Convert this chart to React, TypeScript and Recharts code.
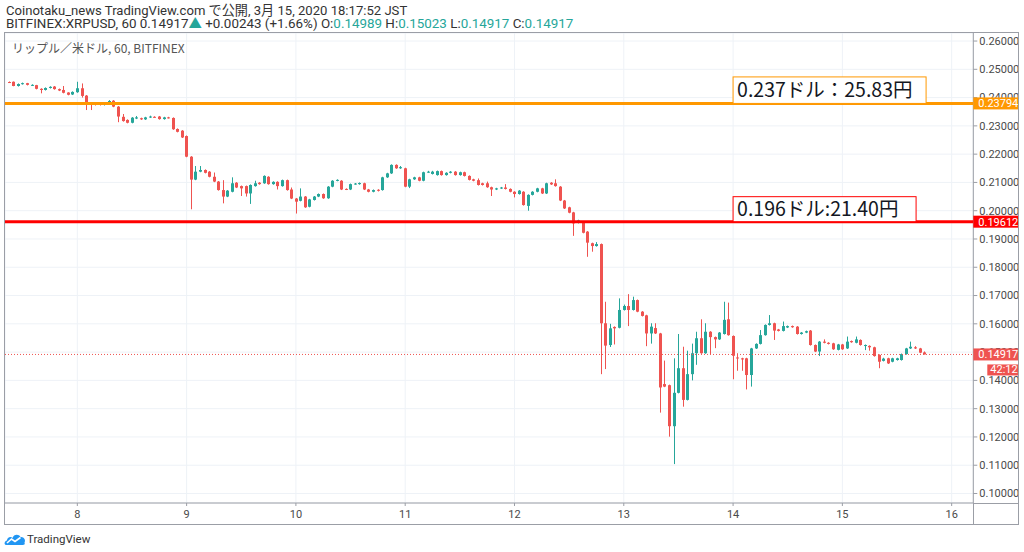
import React from 'react';
import { ComposedChart, Bar, XAxis, YAxis, CartesianGrid, ReferenceLine } from 'recharts';

// ---- data (hourly candles, first candle = 7th 09:00 JST, i.e. hour -15 from 8th 00:00) ----
const START_HOUR = -15;

const OPEN = [
  0.2455, 0.2456, 0.2441, 0.2448, 0.2451, 0.2443, 0.2444, 0.2431, 0.2427, 0.2434, 0.2439, 0.2430, 0.2427, 0.2418, 0.2411,
  0.2419, 0.2433, 0.2407, 0.2380, 0.2378, 0.2382, 0.2374, 0.2382, 0.2389, 0.2368, 0.2332, 0.2321, 0.2311, 0.2326, 0.2327, 0.2323, 0.2330, 0.2332, 0.2333, 0.2324, 0.2330, 0.2328, 0.2289, 0.2283,
  0.2264, 0.2191, 0.2110, 0.2138, 0.2144, 0.2138, 0.2120, 0.2103, 0.2073, 0.2050, 0.2067, 0.2099, 0.2087, 0.2087, 0.2061, 0.2087, 0.2099, 0.2097, 0.2120, 0.2094, 0.2102, 0.2087, 0.2108, 0.2075,
  0.2043, 0.2035, 0.2050, 0.2014, 0.2038, 0.2050, 0.2059, 0.2044, 0.2085, 0.2106, 0.2106, 0.2077, 0.2075, 0.2094, 0.2094, 0.2097, 0.2075, 0.2067, 0.2074, 0.2073, 0.2118, 0.2132, 0.2162, 0.2150,
  0.2150, 0.2085, 0.2111, 0.2118, 0.2106, 0.2136, 0.2130, 0.2126, 0.2140, 0.2126, 0.2134, 0.2138, 0.2126, 0.2136, 0.2123, 0.2111, 0.2108, 0.2097, 0.2097, 0.2083, 0.2075, 0.2079, 0.2082, 0.2077,
  0.2067, 0.2059, 0.2067, 0.2017, 0.2056, 0.2067, 0.2079, 0.2061, 0.2099, 0.2097, 0.2085, 0.2036, 0.2012, 0.1994, 0.1957, 0.1961, 0.1926, 0.1885, 0.1875, 0.1882, 0.1602, 0.1525, 0.1589, 0.1586,
  0.1649, 0.1663, 0.1649, 0.1684, 0.1643, 0.1630, 0.1566, 0.1585, 0.1566, 0.1387, 0.1383, 0.1238, 0.1356, 0.1443, 0.1331, 0.1422, 0.1496, 0.1549, 0.1496, 0.1572, 0.1553, 0.1545, 0.1564, 0.1616,
  0.1557, 0.1481, 0.1478, 0.1478, 0.1419, 0.1513, 0.1529, 0.1560, 0.1596, 0.1602, 0.1580, 0.1575, 0.1587, 0.1592, 0.1590, 0.1564, 0.1569, 0.1576, 0.1525, 0.1502, 0.1537, 0.1533, 0.1531, 0.1508,
  0.1527, 0.1513, 0.1539, 0.1533, 0.1543, 0.1522, 0.1522, 0.1517, 0.1490, 0.1469, 0.1478, 0.1466, 0.1472, 0.1472, 0.1493, 0.1513, 0.1517, 0.1513, 0.14989,
];

const HIGH = [
  0.2457, 0.2457, 0.2450, 0.2453, 0.2452, 0.2447, 0.2445, 0.2433, 0.2436, 0.2440, 0.2441, 0.2432, 0.2441, 0.2419, 0.2422,
  0.2456, 0.2450, 0.2409, 0.2382, 0.2381, 0.2384, 0.2384, 0.2391, 0.2391, 0.2370, 0.2342, 0.2323, 0.2331, 0.2335, 0.2329, 0.2332, 0.2336, 0.2334, 0.2335, 0.2332, 0.2332, 0.2330, 0.2291, 0.2285,
  0.2266, 0.2193, 0.2158, 0.2158, 0.2146, 0.2140, 0.2135, 0.2105, 0.2108, 0.2073, 0.2118, 0.2101, 0.2089, 0.2089, 0.2093, 0.2106, 0.2101, 0.2125, 0.2122, 0.2104, 0.2104, 0.2110, 0.2110, 0.2082,
  0.2045, 0.2079, 0.2052, 0.2042, 0.2052, 0.2061, 0.2061, 0.2087, 0.2108, 0.2111, 0.2108, 0.2079, 0.2096, 0.2098, 0.2100, 0.2099, 0.2077, 0.2075, 0.2076, 0.2120, 0.2134, 0.2164, 0.2164, 0.2158,
  0.2152, 0.2113, 0.2120, 0.2120, 0.2138, 0.2141, 0.2141, 0.2142, 0.2142, 0.2136, 0.2140, 0.2140, 0.2138, 0.2138, 0.2125, 0.2113, 0.2114, 0.2099, 0.2103, 0.2085, 0.2081, 0.2084, 0.2094, 0.2079,
  0.2069, 0.2073, 0.2069, 0.2058, 0.2069, 0.2081, 0.2081, 0.2099, 0.2101, 0.2111, 0.2087, 0.2038, 0.2014, 0.1996, 0.1968, 0.1963, 0.1928, 0.1887, 0.1889, 0.1884, 0.1678, 0.1600, 0.1591, 0.1690,
  0.1668, 0.1705, 0.1696, 0.1686, 0.1645, 0.1632, 0.1602, 0.1602, 0.1568, 0.1470, 0.1385, 0.1478, 0.1564, 0.1519, 0.1505, 0.1530, 0.1572, 0.1616, 0.1602, 0.1574, 0.1555, 0.1571, 0.1678, 0.1675,
  0.1559, 0.1496, 0.1480, 0.1480, 0.1515, 0.1531, 0.1578, 0.1598, 0.1631, 0.1604, 0.1582, 0.1608, 0.1594, 0.1594, 0.1592, 0.1571, 0.1576, 0.1578, 0.1527, 0.1539, 0.1545, 0.1535, 0.1533, 0.1529,
  0.1529, 0.1555, 0.1541, 0.1555, 0.1545, 0.1527, 0.1524, 0.1519, 0.1492, 0.1480, 0.1480, 0.1480, 0.1480, 0.1495, 0.1515, 0.1537, 0.1521, 0.1515, 0.15023,
];

const LOW = [
  0.2452, 0.2440, 0.2439, 0.2446, 0.2443, 0.2441, 0.2429, 0.2415, 0.2425, 0.2432, 0.2428, 0.2423, 0.2415, 0.2408, 0.2409,
  0.2417, 0.2400, 0.2356, 0.2356, 0.2372, 0.2372, 0.2372, 0.2380, 0.2366, 0.2313, 0.2315, 0.2309, 0.2309, 0.2324, 0.2321, 0.2321, 0.2328, 0.2329, 0.2322, 0.2322, 0.2326, 0.2286, 0.2277, 0.2257,
  0.2189, 0.2005, 0.2108, 0.2136, 0.2132, 0.2118, 0.2101, 0.2071, 0.2026, 0.2048, 0.2065, 0.2080, 0.2052, 0.2050, 0.2024, 0.2085, 0.2092, 0.2095, 0.2092, 0.2092, 0.2075, 0.2085, 0.2071, 0.2041,
  0.1990, 0.2033, 0.2010, 0.2012, 0.2036, 0.2048, 0.2042, 0.2042, 0.2083, 0.2104, 0.2073, 0.2073, 0.2073, 0.2092, 0.2092, 0.2073, 0.2065, 0.2065, 0.2068, 0.2071, 0.2116, 0.2130, 0.2148, 0.2148,
  0.2083, 0.2080, 0.2109, 0.2104, 0.2104, 0.2134, 0.2128, 0.2124, 0.2124, 0.2124, 0.2132, 0.2124, 0.2124, 0.2121, 0.2107, 0.2104, 0.2089, 0.2089, 0.2081, 0.2052, 0.2073, 0.2077, 0.2075, 0.2065,
  0.2047, 0.2057, 0.2018, 0.2000, 0.2054, 0.2065, 0.2059, 0.2059, 0.2091, 0.2085, 0.2034, 0.2006, 0.1991, 0.1911, 0.1955, 0.1920, 0.1837, 0.1855, 0.1873, 0.1422, 0.1440, 0.1518, 0.1527, 0.1584,
  0.1647, 0.1592, 0.1647, 0.1641, 0.1626, 0.1521, 0.1530, 0.1564, 0.1286, 0.1376, 0.1201, 0.1104, 0.1354, 0.1307, 0.1329, 0.1400, 0.1455, 0.1494, 0.1494, 0.1493, 0.1514, 0.1543, 0.1562, 0.1558,
  0.1404, 0.1434, 0.1434, 0.1368, 0.1378, 0.1511, 0.1527, 0.1558, 0.1594, 0.1543, 0.1573, 0.1573, 0.1585, 0.1586, 0.1562, 0.1562, 0.1567, 0.1523, 0.1500, 0.1486, 0.1531, 0.1527, 0.1508, 0.1506,
  0.1508, 0.1511, 0.1533, 0.1531, 0.1523, 0.1507, 0.1505, 0.1484, 0.1443, 0.1467, 0.1458, 0.1464, 0.1470, 0.1470, 0.1491, 0.1511, 0.1511, 0.1496, 0.14917,
];

const CLOSE = [
  0.2453, 0.2441, 0.2448, 0.2451, 0.2445, 0.2445, 0.2431, 0.2427, 0.2434, 0.2438, 0.2430, 0.2425, 0.2417, 0.2410, 0.2420,
  0.2433, 0.2406, 0.2380, 0.2374, 0.2376, 0.2374, 0.2382, 0.2388, 0.2368, 0.2333, 0.2317, 0.2311, 0.2329, 0.2330, 0.2323, 0.2330, 0.2333, 0.2331, 0.2324, 0.2330, 0.2328, 0.2288, 0.2279, 0.2259,
  0.2191, 0.2110, 0.2138, 0.2144, 0.2134, 0.2120, 0.2103, 0.2073, 0.2050, 0.2071, 0.2097, 0.2082, 0.2079, 0.2061, 0.2091, 0.2097, 0.2094, 0.2123, 0.2094, 0.2102, 0.2087, 0.2108, 0.2073, 0.2043,
  0.2032, 0.2050, 0.2012, 0.2040, 0.2050, 0.2059, 0.2044, 0.2085, 0.2106, 0.2109, 0.2075, 0.2075, 0.2094, 0.2096, 0.2098, 0.2075, 0.2067, 0.2073, 0.2071, 0.2118, 0.2132, 0.2162, 0.2150, 0.2154,
  0.2085, 0.2111, 0.2118, 0.2106, 0.2136, 0.2138, 0.2138, 0.2140, 0.2126, 0.2134, 0.2138, 0.2126, 0.2136, 0.2123, 0.2109, 0.2106, 0.2091, 0.2091, 0.2083, 0.2075, 0.2079, 0.2082, 0.2077, 0.2067,
  0.2059, 0.2071, 0.2020, 0.2056, 0.2067, 0.2079, 0.2061, 0.2097, 0.2093, 0.2087, 0.2036, 0.2008, 0.1993, 0.1955, 0.1966, 0.1922, 0.1887, 0.1875, 0.1882, 0.1602, 0.1523, 0.1584, 0.1584, 0.1649,
  0.1663, 0.1649, 0.1684, 0.1643, 0.1628, 0.1566, 0.1590, 0.1566, 0.1375, 0.1378, 0.1238, 0.1356, 0.1443, 0.1331, 0.1422, 0.1496, 0.1549, 0.1496, 0.1572, 0.1553, 0.1545, 0.1569, 0.1614, 0.1560,
  0.1487, 0.1478, 0.1474, 0.1419, 0.1513, 0.1529, 0.1560, 0.1596, 0.1602, 0.1576, 0.1575, 0.1592, 0.1592, 0.1588, 0.1564, 0.1569, 0.1574, 0.1525, 0.1502, 0.1537, 0.1533, 0.1529, 0.1510, 0.1527,
  0.1510, 0.1537, 0.1535, 0.1545, 0.1525, 0.1525, 0.1517, 0.1486, 0.1466, 0.1477, 0.1460, 0.1478, 0.1478, 0.1493, 0.1513, 0.1519, 0.1513, 0.1498, 0.14917,
];

const X_TICKS = [0, 24, 48, 72, 96, 120, 144, 168, 192];
const DAY_LABELS = ['8', '9', '10', '11', '12', '13', '14', '15', '16'];
const Y_TICKS = [0.1, 0.11, 0.12, 0.13, 0.14, 0.15, 0.16, 0.17, 0.18, 0.19, 0.2, 0.21, 0.22, 0.23, 0.24, 0.25, 0.26];

const LEVEL_ORANGE = 0.23794;
const LEVEL_RED = 0.19612;
const LAST_PRICE = 0.14917;
const NOTE_ORANGE = '0.237ドル：25.83円';
const NOTE_RED = '0.196ドル:21.40円';
const NOTE_HOUR = 144;
const COUNTDOWN = '42:12';

const X_MIN = -15.88;
const X_MAX = 196.75;
const Y_MIN = 0.09664;
const Y_MAX = 0.26284;

const UP = '#26a69a';
const DOWN = '#ef5350';
const TEAL = '#26a69a';
const AXIS_COLOR = '#9b9ea6';
const GRID_COLOR = '#eef2f7';
const TICK_TEXT = '#4a4a4a';
const FONT = "Roboto, 'Noto Sans CJK JP', sans-serif";

const CHART_MARGIN = { top: 33, right: 0, bottom: 28, left: 5 };
const Y_AXIS_WIDTH = 50.7;
const X_AXIS_HEIGHT = 21;

const candles = OPEN.map((o, i) => {
  const h = HIGH[i];
  const l = LOW[i];
  const c = CLOSE[i];
  return { t: START_HOUR + i, open: o, high: h, low: l, close: c, range: [l, h] };
});

const Candle = (props: any) => {
  const { x, y, width, height, payload } = props;
  if (!payload || height == null) return null;
  const { open, high, low, close } = payload;
  const up = close >= open;
  const color = up ? UP : DOWN;
  const span = high - low || 1e-9;
  const pix = (v: number) => y + ((high - v) / span) * height;
  const cx = x + width / 2;
  const bx = Math.round(cx - 1.5);
  const top = pix(Math.max(open, close));
  const bot = pix(Math.min(open, close));
  return (
    <g>
      <line x1={bx + 1.5} x2={bx + 1.5} y1={y} y2={y + height} stroke={color} strokeWidth={1} />
      <rect x={bx} y={top} width={3} height={Math.max(bot - top, 1)} fill={color} />
    </g>
  );
};

const xOf = (vb: any, h: number) => vb.x + ((h - X_MIN) / (X_MAX - X_MIN)) * vb.width;

const levelLabel = (value: number, color: string, note: string, boxW: number, boxH: number) => (props: any) => {
  const vb = props.viewBox;
  if (!vb) return null;
  const y = vb.y;
  const right = vb.x + vb.width;
  const nx = xOf(vb, NOTE_HOUR);
  return (
    <g>
      <rect x={nx} y={y - boxH} width={boxW} height={boxH} fill="#ffffff" stroke={color} strokeWidth={1} />
      <text x={nx + 4} y={y - 6} fontSize={19.5} fontFamily="'Noto Sans CJK JP', sans-serif" fill="#131722">
        {note}
      </text>
      <rect x={right} y={y - 6} width={45} height={12} fill={color} />
      <text x={right + 5} y={y + 4} fontSize={11} fontFamily={FONT} fill="#ffffff">
        {value.toFixed(5)}
      </text>
    </g>
  );
};

const priceLabel = (props: any) => {
  const vb = props.viewBox;
  if (!vb) return null;
  const y = vb.y;
  const right = vb.x + vb.width;
  return (
    <g>
      <rect x={right} y={y - 6} width={45} height={12} fill={DOWN} />
      <text x={right + 5} y={y + 4} fontSize={11} fontFamily={FONT} fill="#ffffff">
        {LAST_PRICE.toFixed(5)}
      </text>
      <rect x={right + 14} y={y + 10} width={31} height={11} fill={DOWN} />
      <text x={right + 17} y={y + 19} fontSize={11} fontFamily={FONT} fill="#ffffff">
        {COUNTDOWN}
      </text>
    </g>
  );
};

const Logo = () => (
  <svg width={22} height={14} viewBox="0 0 22 14" style={{ position: 'absolute', left: 4, top: 532 }}>
    <path d="M2 13 C0 13 0 9 3 8.5 C3 5 7 4 8.5 6 C9.5 2 15 1.5 16.5 5 C20 4.5 22 8 20.5 10.5 C21.5 13 19 13 18 13 Z" fill="#2196f3" />
    <path d="M3 11 L7.5 7 L11 9.5 L16.5 5.5" stroke="#ffffff" strokeWidth={1.6} fill="none" />
  </svg>
);

export default function App() {
  return (
    <div style={{ position: 'absolute', left: 0, top: 0, width: 1024, height: 552, background: '#ffffff', fontFamily: FONT, overflow: 'hidden' }}>
      <div style={{ position: 'absolute', left: 6, top: 4, fontSize: 13.1, color: '#333', whiteSpace: 'nowrap', lineHeight: '13px' }}>
        Coinotaku_news TradingView.com で公開, 3月 15, 2020 18:17:52 JST
      </div>
      <div style={{ position: 'absolute', left: 6, top: 17, fontSize: 13.4, color: '#333', whiteSpace: 'nowrap', lineHeight: '13px' }}>
        BITFINEX:XRPUSD, 60 0.14917<span style={{ color: TEAL }}>▲</span> +0.00243 (+1.66%) O:<span style={{ color: TEAL }}>0.14989</span> H:
        <span style={{ color: TEAL }}>0.15023</span> L:<span style={{ color: TEAL }}>0.14917</span> C:<span style={{ color: TEAL }}>0.14917</span>
      </div>

      {/* base chart: grid, axes, candles */}
      <div style={{ position: 'absolute', left: 0, top: 0 }}>
        <ComposedChart width={1024} height={552} data={candles} margin={CHART_MARGIN}>
          <CartesianGrid stroke={GRID_COLOR} strokeWidth={1} />
          <XAxis
            dataKey="t"
            type="number"
            domain={[X_MIN, X_MAX]}
            allowDataOverflow
            ticks={X_TICKS}
            tickFormatter={(v: number) => DAY_LABELS[X_TICKS.indexOf(v)] ?? ''}
            height={X_AXIS_HEIGHT}
            tickSize={3}
            tickMargin={4}
            stroke={AXIS_COLOR}
            tick={{ fill: TICK_TEXT, fontSize: 11, fontFamily: FONT }}
            interval={0}
          />
          <YAxis
            orientation="right"
            type="number"
            domain={[Y_MIN, Y_MAX]}
            allowDataOverflow
            ticks={Y_TICKS}
            width={Y_AXIS_WIDTH}
            tickSize={4}
            tickMargin={2}
            stroke={AXIS_COLOR}
            tickFormatter={(v: number) => v.toFixed(5)}
            tick={{ fill: TICK_TEXT, fontSize: 11, fontFamily: FONT }}
            interval={0}
          />
          <Bar dataKey="range" barSize={3} shape={<Candle />} isAnimationActive={false} />
        </ComposedChart>
      </div>

      {/* overlay chart with the same scales: level lines and price tags drawn above the axis labels */}
      <div style={{ position: 'absolute', left: 0, top: 0 }}>
        <ComposedChart
          width={1024}
          height={552}
          data={candles}
          margin={{ top: CHART_MARGIN.top, right: CHART_MARGIN.right + Y_AXIS_WIDTH, bottom: CHART_MARGIN.bottom + X_AXIS_HEIGHT, left: CHART_MARGIN.left }}
        >
          <XAxis dataKey="t" type="number" domain={[X_MIN, X_MAX]} allowDataOverflow hide />
          <YAxis type="number" domain={[Y_MIN, Y_MAX]} allowDataOverflow hide />
          <ReferenceLine y={LAST_PRICE} stroke={DOWN} strokeWidth={1} strokeDasharray="1 2" label={priceLabel} />
          <ReferenceLine y={LEVEL_ORANGE} stroke="#ff9800" strokeWidth={3} label={levelLabel(LEVEL_ORANGE, '#ff9800', NOTE_ORANGE, 193, 26.5)} />
          <ReferenceLine y={LEVEL_RED} stroke="#ff0000" strokeWidth={3} label={levelLabel(LEVEL_RED, '#ff0000', NOTE_RED, 183, 25)} />
        </ComposedChart>
      </div>

      <div style={{ position: 'absolute', left: 12, top: 40, fontSize: 12, color: '#555', whiteSpace: 'nowrap', fontFamily: "'Noto Sans CJK JP', Roboto, sans-serif", lineHeight: '16px' }}>
        リップル／米ドル, 60, BITFINEX
      </div>

      <div style={{ position: 'absolute', left: 4, top: 32, width: 1013, height: 491, border: `1px solid ${AXIS_COLOR}`, pointerEvents: 'none' }} />
      <div style={{ position: 'absolute', left: 973, top: 502.5, width: 45, height: 1, background: AXIS_COLOR }} />
      <div style={{ position: 'absolute', left: 973, top: 503, width: 1, height: 21, background: AXIS_COLOR }} />

      <Logo />
      <div style={{ position: 'absolute', left: 27, top: 531, fontSize: 11.5, color: '#333', lineHeight: '16px' }}>TradingView</div>
    </div>
  );
}
